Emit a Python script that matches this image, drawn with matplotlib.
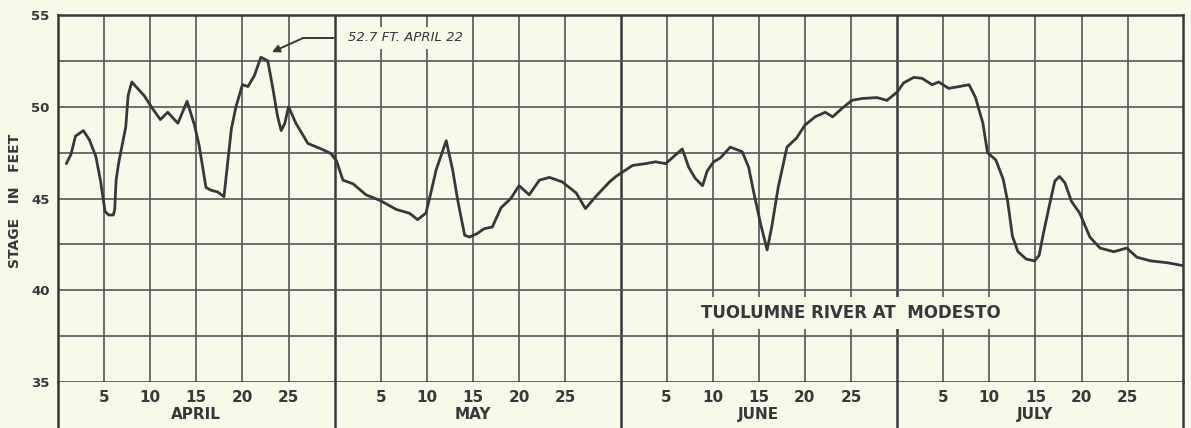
import matplotlib
matplotlib.use("Agg")
import matplotlib.pyplot as plt
import numpy as np

# Calendar layout of the x axis
months = ["APRIL", "MAY", "JUNE", "JULY"]
month_days = [30, 31, 30, 31]
day_ticks = [5, 10, 15, 20, 25]
stage_ticks = [35, 40, 45, 50, 55]

# Gage height (ft), day of month (0 = start of the 1st)
april_day = [0.9, 1.4, 1.9, 2.75, 3.4, 4.1, 4.6, 5.1, 5.5, 6.0, 6.15, 6.3, 6.6,
             7.35, 7.6, 8.0, 9.35, 10.25, 11.1, 11.9, 13.0, 14.0, 14.8, 15.3,
             16.05, 16.6, 17.3, 18.0, 18.8, 19.3, 20.0, 20.6, 21.3, 22.0,
             22.75, 23.3, 23.8, 24.2, 24.6, 25.0, 25.8, 27.1, 28.55, 29.6]
april_ft = [46.9, 47.4, 48.4, 48.7, 48.2, 47.3, 46.0, 44.3, 44.1, 44.1, 44.4,
            46.0, 47.0, 48.9, 50.6, 51.35, 50.6, 49.9, 49.3, 49.7, 49.1, 50.3,
            49.0, 47.9, 45.6, 45.45, 45.36, 45.1, 48.8, 50.0, 51.2, 51.1, 51.7,
            52.7, 52.5, 51.0, 49.5, 48.7, 49.1, 50.0, 49.1, 48.0, 47.7, 47.45]

may_day = [0.2, 0.9, 2.0, 3.4, 4.9, 6.7, 8.1, 9.0, 9.9, 10.5, 11.0, 12.1,
           12.8, 13.35, 14.1, 14.6, 15.5, 16.2, 17.1, 18.05, 19.1, 20.0,
           21.1, 22.2, 23.3, 24.7, 26.2, 27.2, 28.3, 29.8, 30.5]
may_ft = [47.05, 46.0, 45.8, 45.2, 44.9, 44.4, 44.2, 43.85, 44.2, 45.45, 46.55,
          48.15, 46.55, 44.9, 43.0, 42.9, 43.1, 43.35, 43.45, 44.5, 45.0, 45.7,
          45.2, 46.0, 46.15, 45.9, 45.3, 44.45, 45.1, 45.9, 46.2]

june_day = [1.3, 2.7, 3.8, 4.9, 5.8, 6.7, 7.4, 8.1, 8.9, 9.4, 10.1, 10.8,
            11.9, 13.2, 13.9, 14.4, 15.2, 15.9, 16.4, 17.1, 18.05, 19.1,
            20.0, 21.1, 22.2, 23.0, 24.0, 25.1, 26.2, 27.8, 28.9]
june_ft = [46.8, 46.9, 47.0, 46.9, 47.3, 47.7, 46.7, 46.1, 45.7, 46.5, 47.0,
           47.2, 47.8, 47.55, 46.7, 45.45, 43.6, 42.2, 43.45, 45.6, 47.8, 48.3,
           49.0, 49.45, 49.7, 49.45, 49.9, 50.35, 50.45, 50.5, 50.35]

july_day = [0.0, 0.7, 1.8, 2.7, 3.8, 4.5, 5.6, 6.7, 7.8, 8.5, 9.3, 9.8, 10.7,
            11.5, 12.0, 12.5, 13.1, 14.0, 14.9, 15.4, 15.8, 16.5, 17.1, 17.6,
            18.2, 18.9, 19.8, 20.9, 22.0, 23.5, 24.9, 26.0, 27.5, 29.3, 30.9]
july_ft = [50.8, 51.3, 51.6, 51.55, 51.2, 51.35, 51.0, 51.1, 51.2, 50.5, 49.1,
           47.5, 47.1, 46.05, 44.8, 42.95, 42.1, 41.7, 41.6, 41.9, 42.95, 44.6,
           45.95, 46.2, 45.85, 44.85, 44.2, 42.9, 42.3, 42.1, 42.3, 41.8, 41.6,
           41.5, 41.35]

peak_day = 22.0
peak_ft = 52.7
peak_label = "52.7 FT. APRIL 22"
station = "TUOLUMNE RIVER AT  MODESTO"
y_label = "STAGE   IN   FEET"

BG = "#f7f9e9"
INK = "#37373c"
GRID = "#55555a"

starts = np.concatenate([[0], np.cumsum(month_days)[:-1]])
total = int(sum(month_days))

x = np.concatenate([np.asarray(d) + s for d, s in
                    zip([april_day, may_day, june_day, july_day], starts)])
y = np.concatenate([april_ft, may_ft, june_ft, july_ft])

W, H = 1191, 428
fig = plt.figure(figsize=(W / 100, H / 100), dpi=100, facecolor=BG)
ax = fig.add_axes([58 / W, 1 - 382 / H, 1125 / W, 367 / H])
ax.set_facecolor(BG)
ax.set_xlim(0, total)
ax.set_ylim(35, 55)

# Grid: every 5th day, month boundaries heavier, every 2.5 ft
for s in starts:
    for d in day_ticks:
        ax.axvline(s + d, color=GRID, lw=1.2, zorder=1)
for b in starts[1:]:
    ax.axvline(b, color=INK, lw=1.8, zorder=1)
for v in np.arange(37.5, 55, 2.5):
    ax.axhline(v, color=GRID, lw=1.2, zorder=1)
for sp in ax.spines.values():
    sp.set_color(INK)
    sp.set_linewidth(1.8)

ax.plot(x, y, color=INK, lw=2.0, solid_joinstyle="round",
        solid_capstyle="round", zorder=3)

ax.set_xticks([])
ax.set_yticks(stage_ticks)
ax.set_yticklabels([str(t) for t in stage_ticks], fontsize=9.5,
                   fontweight="bold", color=INK)
ax.tick_params(axis="y", length=0, pad=6)

fig.text(15 / W, 1 - 201 / H, y_label, rotation=90, ha="center", va="center",
         fontsize=10, fontweight="bold", color=INK)

# Station name over the grid
ax.text(0.7045, 0.188, station, transform=ax.transAxes, ha="center",
        va="center", fontsize=12, fontweight="bold", color=INK, zorder=4,
        bbox=dict(facecolor=BG, edgecolor="none", pad=5))

# Crest note with leader and arrow
tip = (peak_day + 1.2, peak_ft + 0.28)
elbow = (peak_day + 4.6, peak_ft + 1.05)
ax.plot([elbow[0], peak_day + 7.8], [elbow[1], elbow[1]], color=INK, lw=1.4,
        zorder=4)
ax.annotate("", xy=tip, xytext=elbow,
            arrowprops=dict(arrowstyle="-|>", color=INK, lw=1.4,
                            mutation_scale=11, shrinkA=0, shrinkB=0),
            zorder=4)
ax.text(peak_day + 9.5, elbow[1], peak_label, ha="left", va="center",
        fontsize=9.5, style="italic", color=INK, zorder=4,
        bbox=dict(facecolor=BG, edgecolor="none", pad=3))

# Date strip beneath the chart
sx = fig.add_axes([58 / W, 0, 1125 / W, 46 / H])
sx.set_facecolor(BG)
sx.set_xlim(0, total)
sx.set_ylim(0, 1)
sx.set_xticks([])
sx.set_yticks([])
for side in ("top", "bottom"):
    sx.spines[side].set_visible(False)
for side in ("left", "right"):
    sx.spines[side].set_color(INK)
    sx.spines[side].set_linewidth(1.8)
for b in starts[1:]:
    sx.axvline(b, color=INK, lw=1.8)
for s, name in zip(starts, months):
    for d in day_ticks:
        sx.text(s + d, 0.67, str(d), ha="center", va="center", fontsize=11,
                fontweight="bold", color=INK)
    sx.text(s + 15, 0.29, name, ha="center", va="center", fontsize=11,
            fontweight="bold", color=INK)

fig.savefig("out.png", dpi=100, facecolor=BG)
